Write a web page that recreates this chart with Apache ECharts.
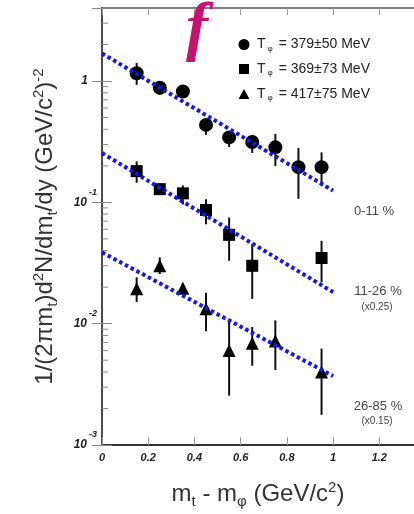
<!DOCTYPE html>
<html>
<head>
<meta charset="utf-8">
<script src="https://cdn.jsdelivr.net/npm/echarts@6/dist/echarts.min.js"></script>
<style>
html,body{margin:0;padding:0;background:#fff;}
#chart{width:414px;height:514px;}
</style>
</head>
<body>
<div id="chart"></div>
<script>
// ---- data ----
const circleX    = [0.15, 0.25, 0.35, 0.45, 0.55, 0.65, 0.75, 0.85, 0.95];
const circleY    = [1.16, 0.88, 0.82, 0.435, 0.343, 0.314, 0.284, 0.195, 0.195];
const circleLow  = [0.93, 0.77, 0.80, 0.36, 0.286, 0.255, 0.199, 0.107, 0.136];
const circleHigh = [1.41, 0.99, 0.84, 0.49, 0.372, 0.36, 0.366, 0.281, 0.258];

const squareX    = [0.15, 0.25, 0.35, 0.45, 0.55, 0.65, 0.95];
const squareY    = [0.181, 0.1285, 0.1186, 0.0865, 0.054, 0.030, 0.0348];
const squareLow  = [0.145, 0.122, 0.096, 0.066, 0.033, 0.016, 0.022];
const squareHigh = [0.218, 0.136, 0.138, 0.106, 0.075, 0.0453, 0.0482];

const triX    = [0.15, 0.25, 0.35, 0.45, 0.55, 0.65, 0.75, 0.95];
const triY    = [0.0194, 0.030, 0.0196, 0.0133, 0.0060, 0.0069, 0.0072, 0.0040];
const triLow  = [0.0151, 0.0257, 0.0180, 0.00865, 0.00255, 0.0045, 0.00414, 0.00177];
const triHigh = [0.0241, 0.0352, 0.0215, 0.01795, 0.01033, 0.0094, 0.01064, 0.00624];

const fitX  = [0, 1];
const fit1  = [1.69, 0.125];
const fit2  = [0.255, 0.0182];
const fit3  = [0.0387, 0.0037];

const legendTexts = ['379±50 MeV', '369±73 MeV', '417±75 MeV'];
const centLabels = ['0-11 %', '11-26 %', '26-85 %'];
const scaleLabels = ['(x0.25)', '(x0.15)'];
const minorTickValues = [0.002,0.003,0.004,0.005,0.006,0.007,0.008,0.009,
                         0.02,0.03,0.04,0.05,0.06,0.07,0.08,0.09,
                         0.2,0.3,0.4,0.5,0.6,0.7,0.8,0.9,
                         2,3];

const FONT = '"Liberation Sans", Arial, Helvetica, sans-serif';

function pts(xs, ys){ return xs.map((x,i)=>[x, ys[i]]); }
function errs(xs, lo, hi){ return xs.map((x,i)=>[x, lo[i], hi[i]]); }

function errRender(params, api){
  const a = api.coord([api.value(0), api.value(1)]);
  const b = api.coord([api.value(0), api.value(2)]);
  return {type:'line', shape:{x1:a[0], y1:a[1], x2:b[0], y2:b[1]},
          style:{stroke:'#111', lineWidth:2}};
}
function errSeries(data){
  return {type:'custom', renderItem: errRender, data: data, z: 2,
          encode:{x:0, y:[1,2]}, silent:true, clip:false};
}
function fitSeries(ys){
  return {type:'line', data: pts(fitX, ys), symbol:'none', z: 5, silent:true,
          lineStyle:{color:'#1414f5', width:4, type:[3.5,3], cap:'butt'}};
}

const chart = echarts.init(document.getElementById('chart'), null, {renderer:'canvas'});

const subRich = {fontSize:15, fontFamily:FONT, color:'#333', padding:[14,0,0,0], verticalAlign:'middle'};
const supRich = {fontSize:15, fontFamily:FONT, color:'#333', padding:[0,0,14,0], verticalAlign:'middle'};

const option = {
  animation:false,
  backgroundColor:'#fff',
  grid:{left:102, top:8, right:-9, bottom:68},
  xAxis:[{
    type:'value', min:0, max:1.35, interval:0.2, position:'bottom',
    axisLine:{lineStyle:{color:'#333', width:2}},
    axisTick:{inside:true, length:8, lineStyle:{color:'#999', width:1}},
    splitLine:{show:false},
    axisLabel:{
      margin:7, color:'#222', fontSize:11, fontWeight:'bold', fontStyle:'italic', fontFamily:FONT,
      showMaxLabel:false,
      formatter:function(v){ return (Math.abs(v - Math.round(v/0.2)*0.2) < 1e-6) ? String(+v.toFixed(1)) : ''; }
    },
    name:'m{sub|t} - m{sub|φ} (GeV/c{sup|2})',
    nameLocation:'middle', nameGap:35,
    nameTextStyle:{fontSize:24, fontFamily:FONT, color:'#333',
      rich:{sub:subRich, sup:supRich}}
  },{
    type:'value', min:0, max:1.35, interval:0.2, position:'top',
    axisLine:{lineStyle:{color:'#555', width:1.5}},
    axisTick:{inside:true, length:7, lineStyle:{color:'#999', width:1}},
    axisLabel:{show:false}, splitLine:{show:false}
  }],
  yAxis:[{
    type:'log', logBase:10, min:0.001, max:4, position:'left',
    axisLine:{lineStyle:{color:'#333', width:2}},
    axisTick:{inside:true, length:10, lineStyle:{color:'#888', width:1}},
    splitLine:{show:false},
    axisLabel:{
      margin:5, fontFamily:FONT, showMaxLabel:false,
      formatter:function(v){
        const l = Math.log10(v); const e = Math.round(l);
        if (Math.abs(l-e) > 1e-6) return '';
        if (e === 0) return '{one|1}';
        return '{b|10}{s|' + e + '}';
      },
      rich:{
        one:{fontSize:12, fontWeight:'bold', fontStyle:'italic', fontFamily:FONT, color:'#222', padding:[0,9,0,0], verticalAlign:'middle'},
        b:{fontSize:12, fontWeight:'bold', fontStyle:'italic', fontFamily:FONT, color:'#222', lineHeight:12, verticalAlign:'middle'},
        s:{fontSize:9, fontWeight:'bold', fontStyle:'italic', fontFamily:FONT, color:'#222', lineHeight:9, padding:[0,0,20,2], verticalAlign:'middle'}
      }
    },
    name:'1/(2πm{sub|t})d{sup|2}N/dm{sub|t}/dy (GeV/c{sup|2}){sup|-2}',
    nameLocation:'middle', nameGap:42, nameRotate:90,
    nameTextStyle:{fontSize:24, fontFamily:FONT, color:'#333',
      rich:{sub:subRich, sup:supRich}}
  },{
    type:'log', logBase:10, min:0.001, max:4, position:'right',
    axisLine:{lineStyle:{color:'#555', width:1.5}},
    axisTick:{inside:true, length:10, lineStyle:{color:'#888', width:1}},
    axisLabel:{show:false}, splitLine:{show:false}
  }],
  series:[
    {type:'custom', silent:true, z:1, clip:false,
     data: minorTickValues.map(v=>[0, v]),
     renderItem:function(params, api){
       const p = api.coord([0, api.value(1)]);
       return {type:'line', shape:{x1:p[0], y1:p[1], x2:p[0]+6, y2:p[1]},
               style:{stroke:'#888', lineWidth:1}};
     }},
    errSeries(errs(circleX, circleLow, circleHigh)),
    errSeries(errs(squareX, squareLow, squareHigh)),
    errSeries(errs(triX, triLow, triHigh)),
    {type:'scatter', data: pts(circleX, circleY), symbol:'circle', symbolSize:14, z:3,
     itemStyle:{color:'#000', opacity:1}},
    {type:'scatter', data: pts(squareX, squareY), symbol:'rect', symbolSize:12, z:3,
     itemStyle:{color:'#000', opacity:1}},
    {type:'scatter', data: pts(triX, triY), symbol:'triangle', symbolSize:[13,13], z:3,
     itemStyle:{color:'#000', opacity:1}},
    fitSeries(fit1),
    fitSeries(fit2),
    fitSeries(fit3)
  ],
  graphic:[
    {type:'text', x:197, y:31, z:10,
     style:{text:'f', fontSize:66, fontWeight:'bold', fontStyle:'italic',
            fontFamily:'"Liberation Serif", "Times New Roman", serif',
            fill:'#c8106e', align:'center', verticalAlign:'middle'}},
    // legend
    {type:'circle', shape:{cx:244, cy:44.5, r:5.5}, style:{fill:'#000'}},
    {type:'rect', shape:{x:239, y:64, width:10, height:10}, style:{fill:'#000'}},
    {type:'polygon', shape:{points:[[238.5,99],[249.5,99],[244,89]]}, style:{fill:'#000'}},
    ...legendTexts.map((t,i)=>({
      type:'text', x:257, y:[44.5,69,94][i],
      style:{text:'T{s|φ} = ' + t, font:'14px ' + FONT, fill:'#222', verticalAlign:'middle',
        rich:{s:{fontSize:8, fontFamily:FONT, fill:'#222', padding:[8,2,0,2], verticalAlign:'middle'}}}
    })),
    // centrality labels
    {type:'text', x:374, y:211, style:{text:centLabels[0], font:'13px ' + FONT, fill:'#444', align:'center', verticalAlign:'middle'}},
    {type:'text', x:378, y:291, style:{text:centLabels[1], font:'13px ' + FONT, fill:'#444', align:'center', verticalAlign:'middle'}},
    {type:'text', x:377, y:307, style:{text:scaleLabels[0], font:'10px ' + FONT, fill:'#444', align:'center', verticalAlign:'middle'}},
    {type:'text', x:378, y:406, style:{text:centLabels[2], font:'13px ' + FONT, fill:'#444', align:'center', verticalAlign:'middle'}},
    {type:'text', x:377, y:421, style:{text:scaleLabels[1], font:'10px ' + FONT, fill:'#444', align:'center', verticalAlign:'middle'}}
  ]
};
chart.setOption(option);
</script>
</body>
</html>
